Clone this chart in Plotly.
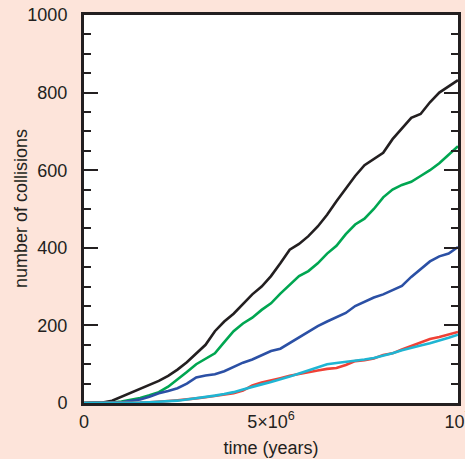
import plotly.graph_objects as go

t_myr = [0, 0.25, 0.5, 0.75, 1.0, 1.25, 1.5, 1.75, 2.0, 2.25, 2.5, 2.75, 3.0, 3.25, 3.5, 3.75,
         4.0, 4.25, 4.5, 4.75, 5.0, 5.25, 5.5, 5.75, 6.0, 6.25, 6.5, 6.75, 7.0, 7.25, 7.5, 7.75,
         8.0, 8.25, 8.5, 8.75, 9.0, 9.25, 9.5, 9.75, 10.0]
black = [0, 0, 1, 6, 16, 26, 36, 46, 57, 70, 86, 105, 128, 150, 185, 210,
         230, 255, 280, 300, 327, 360, 395, 410, 430, 455, 485, 520, 552, 585, 613, 630,
         645, 680, 709, 735, 745, 775, 800, 815, 832]
green = [0, 0, 0, 1, 4, 8, 13, 20, 28, 42, 60, 80, 100, 113, 128, 157,
         185, 205, 220, 240, 257, 282, 305, 327, 340, 360, 385, 405, 435, 460, 475, 500,
         530, 550, 562, 570, 585, 600, 618, 640, 662]
blue = [0, 0, 0, 1, 2, 5, 9, 16, 25, 31, 38, 50, 66, 71, 74, 82,
        93, 104, 112, 122, 134, 140, 155, 168, 183, 198, 210, 220, 232, 250, 262, 272,
        280, 292, 302, 325, 345, 365, 378, 385, 402]
red = [0, 0, 0, 0, 0, 0, 1, 2, 3, 5, 7, 9, 12, 15, 18, 21,
       25, 32, 45, 53, 58, 64, 70, 75, 80, 84, 88, 90, 98, 108, 110, 115,
       124, 128, 138, 147, 155, 165, 170, 176, 183]
cyan = [0, 0, 0, 0, 0, 0, 1, 2, 3, 4, 6, 9, 12, 15, 19, 23,
        28, 35, 42, 48, 54, 60, 68, 76, 84, 92, 100, 103, 106, 108, 112, 116,
        122, 128, 136, 143, 148, 154, 160, 168, 176]

x_tickvals = [0, 5e6, 1e7]
x_ticktext = ["0", "5\u00d710<sup>6</sup>", "10<sup>7</sup>"]
y_tickvals = [0, 200, 400, 600, 800, 1000]

t = [v * 1e6 for v in t_myr]
ink = "#231f20"
FONT = "Liberation Sans, Arial, sans-serif"

series = [
    (black, "#231f20"),
    (green, "#00a651"),
    (blue, "#2b50a5"),
    (red, "#ef4136"),
    (cyan, "#1fb5d3"),
]

fig = go.Figure()
for vals, col in series:
    fig.add_trace(go.Scatter(x=t, y=vals, mode="lines",
                             line=dict(color=col, width=2.6), showlegend=False))

fig.update_layout(
    width=465, height=459,
    margin=dict(l=84, r=7, t=15, b=56),
    paper_bgcolor="#fde4da",
    plot_bgcolor="#ffffff",
    font=dict(family=FONT, color=ink, size=18),
    xaxis=dict(
        range=[0, 1e7], showgrid=False, zeroline=False, automargin=False,
        showline=True, linecolor=ink, linewidth=3, mirror=True,
        ticks="", tickvals=x_tickvals, ticktext=x_ticktext,
        tickfont=dict(size=18), ticklabeloverflow="allow",
        title=dict(text="time (years)", font=dict(size=18), standoff=11),
    ),
    xaxis2=dict(
        range=[0, 1e7], overlaying="x", side="top", showgrid=False, automargin=False,
        zeroline=False, showticklabels=False, showline=False,
        ticks="inside", ticklen=14, tickwidth=1.5, tickcolor=ink,
        tickvals=[5e6],
        minor=dict(ticks="inside", ticklen=7, tickwidth=1.5, tickcolor=ink, dtick=1e6, showgrid=False),
    ),
    yaxis=dict(
        range=[0, 1000], showgrid=False, zeroline=False, automargin=False,
        showline=True, linecolor=ink, linewidth=3, mirror="allticks",
        ticks="inside", ticklen=14, tickwidth=1.5, tickcolor=ink,
        tickvals=y_tickvals, tickfont=dict(size=18), ticklabelstandoff=10,
        minor=dict(ticks="inside", ticklen=7, tickwidth=1.5, tickcolor=ink, dtick=50, showgrid=False),
    ),
    annotations=[dict(
        text="number of collisions", textangle=-90, showarrow=False,
        xref="paper", yref="paper", x=0, y=0.5, xanchor="center", yanchor="middle",
        xshift=-63, font=dict(size=18, color=ink),
    )],
)

fig.write_html("out.html", config={"displayModeBar": False},
               post_script="document.body.style.margin='0';")
